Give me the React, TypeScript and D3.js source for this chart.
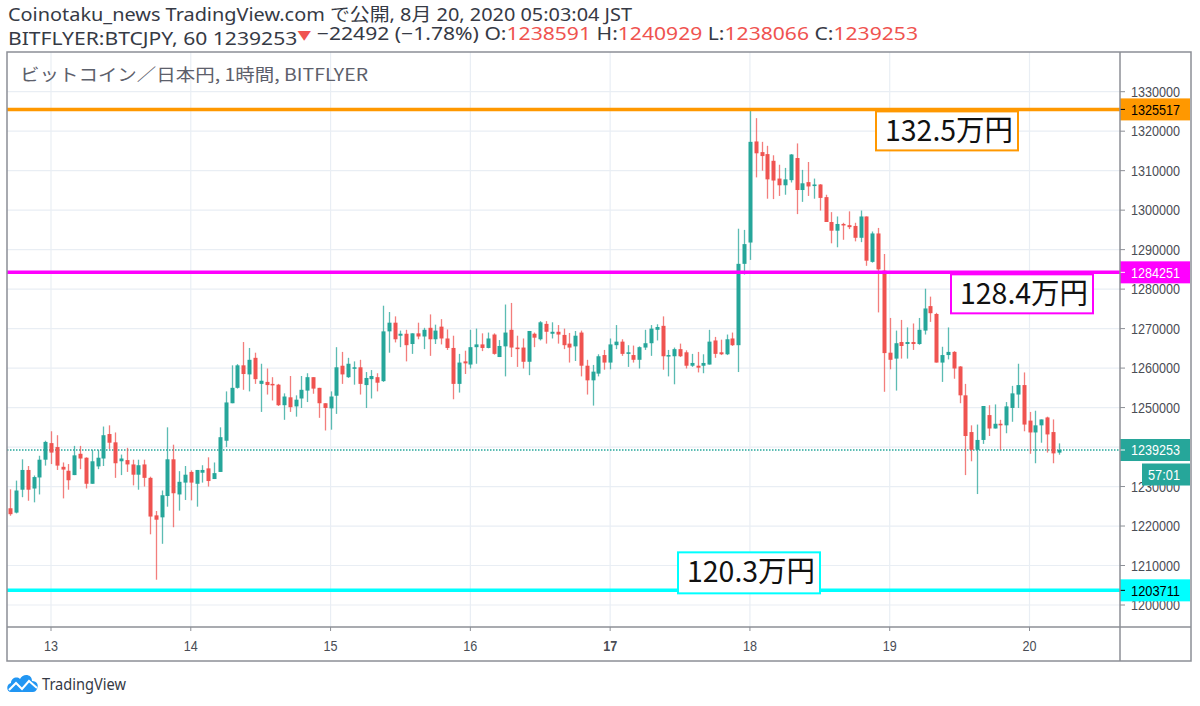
import { useRef, useEffect } from 'react';
import * as d3 from 'd3';

// BITFLYER:BTCJPY hourly bars, first bar 12 Aug 2020 17:00 JST. Prices in thousands of yen.
const openK = [
  1224.5, 1223.4, 1229.2, 1234.2, 1229.5, 1232.3, 1236.8, 1241.0, 1240.0, 1235.0,
  1234.0, 1232.9, 1238.3, 1237.3, 1230.7, 1235.1, 1237.1, 1243.3, 1241.2, 1236.4,
  1236.7, 1235.6, 1233.0, 1235.6, 1232.2, 1222.7, 1222.2, 1227.6, 1236.9, 1228.0,
  1231.0, 1233.7, 1230.7, 1233.5, 1234.6, 1231.9, 1233.7, 1241.6, 1251.1, 1255.0,
  1260.7, 1258.4, 1262.6, 1256.0, 1256.5, 1256.0, 1255.8, 1250.6, 1252.6, 1250.3,
  1252.3, 1254.3, 1257.7, 1255.0, 1251.1, 1249.8, 1253.0, 1260.6, 1257.7, 1259.9,
  1260.2, 1255.7, 1257.2, 1257.7, 1256.7, 1269.3, 1271.5, 1268.2, 1268.7, 1266.1,
  1268.8, 1268.0, 1270.2, 1267.3, 1270.5, 1267.5, 1265.1, 1256.0, 1261.7, 1260.9,
  1265.3, 1266.0, 1265.1, 1268.5, 1262.8, 1265.5, 1269.7, 1265.2, 1265.2, 1261.6,
  1268.7, 1267.3, 1271.2, 1268.7, 1269.2, 1268.4, 1266.2, 1265.5, 1269.0, 1260.6,
  1256.9, 1258.6, 1263.3, 1261.4, 1265.8, 1266.7, 1263.6, 1263.3, 1262.1, 1265.2,
  1266.3, 1269.7, 1270.7, 1263.0, 1263.0, 1264.8, 1264.0, 1260.6, 1260.6, 1260.6,
  1260.9, 1267.0, 1264.0, 1263.5, 1267.5, 1265.8, 1286.4, 1291.8, 1317.4, 1314.7,
  1314.2, 1312.5, 1308.0, 1306.3, 1307.6, 1313.2, 1305.1, 1307.1, 1306.1, 1306.5,
  1303.3, 1297.0, 1294.8, 1296.5, 1296.2, 1296.0, 1293.0, 1298.4, 1286.9, 1294.1,
  1284.7, 1263.9, 1262.4, 1266.6, 1266.1, 1266.6, 1266.1, 1269.5, 1275.7, 1273.7,
  1261.4, 1263.3, 1264.1, 1260.4, 1253.1, 1243.8, 1239.3, 1241.8, 1248.1, 1244.7,
  1245.9, 1245.5, 1249.9, 1253.3, 1255.7, 1246.7, 1243.7, 1245.5, 1247.5, 1243.8,
  1238.591,
];
const highK = [
  1229.3, 1231.5, 1236.9, 1235.2, 1232.8, 1237.8, 1241.6, 1244.0, 1243.0, 1236.1,
  1235.7, 1240.3, 1240.3, 1237.4, 1239.3, 1239.3, 1245.2, 1245.5, 1243.7, 1238.1,
  1239.8, 1236.8, 1236.8, 1236.8, 1232.5, 1223.8, 1229.0, 1245.0, 1240.6, 1233.9,
  1235.2, 1234.1, 1234.2, 1235.4, 1237.4, 1236.1, 1245.0, 1254.1, 1260.7, 1261.0,
  1266.6, 1265.1, 1263.9, 1261.1, 1259.9, 1257.7, 1256.0, 1253.6, 1258.0, 1253.1,
  1258.0, 1258.7, 1257.7, 1255.0, 1251.1, 1254.1, 1265.3, 1264.1, 1262.6, 1261.7,
  1262.1, 1259.0, 1259.5, 1258.7, 1275.8, 1274.2, 1273.1, 1269.5, 1269.7, 1268.8,
  1271.5, 1270.2, 1273.6, 1271.0, 1272.4, 1269.8, 1268.2, 1263.6, 1264.4, 1269.7,
  1270.0, 1268.8, 1269.0, 1268.8, 1267.1, 1276.1, 1276.5, 1268.2, 1267.5, 1269.4,
  1269.0, 1271.9, 1271.9, 1271.6, 1270.9, 1270.0, 1268.9, 1269.4, 1269.5, 1262.1,
  1260.8, 1263.5, 1264.6, 1267.5, 1270.9, 1267.3, 1265.8, 1265.7, 1265.5, 1269.7,
  1270.9, 1271.1, 1273.1, 1264.6, 1265.2, 1266.2, 1264.5, 1263.6, 1264.1, 1263.5,
  1269.7, 1267.9, 1267.2, 1268.5, 1269.0, 1295.3, 1295.0, 1325.5, 1323.3, 1317.3,
  1316.3, 1313.9, 1311.5, 1310.7, 1314.2, 1316.9, 1310.2, 1312.2, 1308.0, 1306.6,
  1303.9, 1299.5, 1298.4, 1296.8, 1299.7, 1296.8, 1299.9, 1298.4, 1294.6, 1295.5,
  1288.9, 1272.7, 1269.5, 1272.2, 1270.3, 1271.3, 1272.7, 1280.1, 1278.1, 1274.0,
  1265.4, 1270.3, 1264.3, 1260.5, 1256.0, 1245.5, 1245.7, 1250.4, 1250.6, 1250.8,
  1246.9, 1251.4, 1255.5, 1261.1, 1258.9, 1248.9, 1249.2, 1247.0, 1247.7, 1247.0,
  1240.929,
];
const lowK = [
  1222.6, 1223.2, 1227.3, 1226.4, 1226.0, 1228.0, 1235.3, 1235.7, 1234.2, 1227.0,
  1229.2, 1232.9, 1234.4, 1229.5, 1230.7, 1234.4, 1235.2, 1239.5, 1232.2, 1232.9,
  1233.7, 1230.3, 1229.2, 1230.0, 1217.9, 1206.4, 1215.5, 1224.9, 1219.7, 1223.9,
  1226.6, 1226.5, 1224.9, 1231.0, 1230.0, 1231.9, 1233.7, 1240.0, 1251.1, 1254.8,
  1254.5, 1254.1, 1256.0, 1248.9, 1253.3, 1251.8, 1250.4, 1246.9, 1248.9, 1247.7,
  1249.9, 1251.4, 1253.5, 1247.4, 1244.2, 1244.4, 1248.4, 1256.0, 1257.5, 1255.8,
  1253.3, 1249.9, 1252.3, 1254.1, 1256.5, 1263.9, 1266.5, 1265.3, 1261.7, 1263.6,
  1267.3, 1264.8, 1263.1, 1266.1, 1266.0, 1264.6, 1252.1, 1253.8, 1258.5, 1259.9,
  1261.1, 1264.3, 1265.0, 1263.4, 1262.8, 1257.9, 1262.8, 1260.3, 1259.9, 1258.2,
  1265.3, 1267.0, 1266.2, 1267.5, 1266.2, 1264.8, 1261.4, 1261.8, 1257.9, 1253.3,
  1250.5, 1257.9, 1259.6, 1259.7, 1264.8, 1263.1, 1260.3, 1261.4, 1259.9, 1264.6,
  1263.1, 1267.0, 1259.6, 1257.9, 1255.9, 1262.8, 1259.9, 1260.3, 1258.9, 1258.7,
  1260.9, 1262.6, 1263.3, 1263.3, 1265.6, 1259.0, 1283.7, 1287.4, 1308.3, 1310.0,
  1302.9, 1302.8, 1303.6, 1303.9, 1307.0, 1299.0, 1302.1, 1303.6, 1302.9, 1299.9,
  1297.0, 1291.6, 1290.6, 1292.5, 1295.2, 1292.1, 1291.9, 1285.9, 1286.7, 1274.1,
  1254.0, 1259.7, 1254.3, 1262.4, 1262.4, 1264.6, 1265.9, 1268.5, 1271.7, 1261.4,
  1256.5, 1262.2, 1257.3, 1251.1, 1232.9, 1236.4, 1228.1, 1240.8, 1242.8, 1244.7,
  1239.3, 1243.5, 1246.4, 1249.9, 1244.0, 1238.3, 1235.9, 1241.1, 1238.6, 1235.9,
  1238.066,
];
const closeK = [
  1223.0, 1229.0, 1234.2, 1229.2, 1232.4, 1236.8, 1241.3, 1238.6, 1235.3, 1234.3,
  1231.6, 1237.9, 1237.1, 1230.7, 1236.4, 1237.3, 1243.0, 1241.1, 1235.9, 1237.1,
  1235.6, 1233.0, 1235.4, 1232.2, 1222.4, 1221.6, 1227.8, 1236.9, 1228.3, 1231.2,
  1233.0, 1231.0, 1234.2, 1234.2, 1231.4, 1233.4, 1242.5, 1251.3, 1255.0, 1260.7,
  1258.5, 1262.1, 1257.2, 1256.8, 1255.7, 1255.7, 1250.6, 1252.8, 1250.1, 1252.0,
  1254.5, 1257.7, 1254.8, 1251.1, 1249.9, 1252.8, 1260.2, 1258.4, 1261.1, 1260.2,
  1256.0, 1257.5, 1258.0, 1256.3, 1269.3, 1271.5, 1267.3, 1268.7, 1265.8, 1268.8,
  1268.0, 1269.7, 1267.3, 1269.5, 1267.5, 1265.1, 1256.0, 1261.4, 1261.2, 1265.3,
  1266.0, 1265.1, 1267.5, 1263.6, 1265.6, 1269.0, 1265.2, 1264.8, 1261.6, 1269.4,
  1267.7, 1271.6, 1269.2, 1269.2, 1268.5, 1265.8, 1265.2, 1268.2, 1260.6, 1256.9,
  1259.1, 1263.0, 1261.4, 1266.0, 1266.7, 1263.6, 1264.0, 1262.1, 1265.3, 1266.3,
  1270.0, 1270.4, 1263.0, 1263.3, 1264.8, 1263.0, 1260.6, 1261.3, 1260.1, 1261.3,
  1266.7, 1263.6, 1263.5, 1267.3, 1265.8, 1286.4, 1291.4, 1317.3, 1314.4, 1313.7,
  1307.8, 1307.5, 1306.3, 1307.8, 1314.1, 1305.1, 1306.8, 1306.0, 1306.5, 1303.1,
  1297.0, 1294.8, 1296.5, 1296.2, 1295.7, 1293.0, 1298.4, 1287.2, 1294.1, 1285.0,
  1263.8, 1262.1, 1266.3, 1265.6, 1266.6, 1266.1, 1269.7, 1275.1, 1273.9, 1261.4,
  1263.3, 1264.1, 1259.9, 1253.1, 1242.8, 1239.3, 1241.8, 1250.4, 1244.7, 1245.9,
  1245.5, 1250.3, 1253.6, 1255.7, 1245.7, 1243.7, 1245.5, 1247.0, 1243.2, 1238.4,
  1239.253,
];

const priceTicks = [
  1200000, 1210000, 1220000, 1230000, 1240000, 1250000, 1260000,
  1270000, 1280000, 1290000, 1300000, 1310000, 1320000, 1330000,
];
const dayTicks = [13, 14, 15, 16, 17, 18, 19, 20];

const levelPrices = [1325517, 1284251, 1203711];
const levelNotes = ['132.5万円', '128.4万円', '120.3万円'];
const levelColors = ['#ff9800', '#ff00ff', '#00ffff'];
const levelTagText = ['#000000', '#ffffff', '#000000'];

const lastPrice = 1239253;
const countdown = '57:01';

const UP = '#26a69a';
const DOWN = '#ef5350';
const AXIS_FONT = '"Liberation Sans", Arial, sans-serif';
const TEXT_FONT = '"Noto Sans", "Noto Sans CJK JP", sans-serif';

// pane geometry
const FRAME = { left: 7, top: 52, right: 1191, bottom: 661 };
const PANE_RIGHT = 1120;
const AXIS_Y = 627;

export default function App() {
  const svgRef = useRef<SVGSVGElement>(null);

  useEffect(() => {
    const svg = d3.select(svgRef.current!);
    svg.selectAll('*').remove();

    const bars = openK.map((o, i) => ({
      t: new Date(Date.UTC(2020, 7, 12, 17 + i)),
      o: o * 1000,
      h: highK[i] * 1000,
      l: lowK[i] * 1000,
      c: closeK[i] * 1000,
    }));

    const x = d3
      .scaleUtc()
      .domain([new Date(Date.UTC(2020, 7, 13)), new Date(Date.UTC(2020, 7, 20))])
      .range([51, 1029.5]);
    const y = d3.scaleLinear().domain([1200000, 1330000]).range([605, 91.7]);

    svg.append('rect').attr('width', 1200).attr('height', 706).attr('fill', '#ffffff');

    // header
    svg
      .append('text')
      .attr('x', 8)
      .attr('y', 21)
      .attr('font-family', TEXT_FONT)
      .attr('font-size', 18)
      .attr('fill', '#363a45')
      .attr('textLength', 624)
      .attr('lengthAdjust', 'spacingAndGlyphs')
      .text('Coinotaku_news TradingView.com で公開, 8月 20, 2020 05:03:04 JST');

    const line2 = svg
      .append('text')
      .attr('x', 8)
      .attr('y', 45)
      .attr('font-family', TEXT_FONT)
      .attr('font-size', 18)
      .attr('fill', '#363a45')
      .attr('textLength', 910)
      .attr('lengthAdjust', 'spacingAndGlyphs');
    const parts: [string, string][] = [
      ['BITFLYER:BTCJPY, 60 1239253', '#363a45'],
      ['▼', DOWN],
      [' −22492 (−1.78%) O:', '#363a45'],
      ['1238591', DOWN],
      [' H:', '#363a45'],
      ['1240929', DOWN],
      [' L:', '#363a45'],
      ['1238066', DOWN],
      [' C:', '#363a45'],
      ['1239253', DOWN],
    ];
    parts.forEach(([s, col]) => {
      line2
        .append('tspan')
        .attr('fill', col)
        .attr('font-size', s === '▼' ? 12 : 18)
        .attr('dy', s === '▼' ? -5 : 0)
        .text(s);
      if (s === '▼') line2.append('tspan').attr('dy', 5).text('');
    });

    // pane
    svg
      .append('defs')
      .append('clipPath')
      .attr('id', 'pane')
      .append('rect')
      .attr('x', FRAME.left)
      .attr('y', FRAME.top)
      .attr('width', PANE_RIGHT - FRAME.left)
      .attr('height', AXIS_Y - FRAME.top);

    const pane = svg.append('g').attr('clip-path', 'url(#pane)');

    pane
      .selectAll('.hgrid')
      .data(priceTicks)
      .join('line')
      .attr('x1', FRAME.left)
      .attr('x2', PANE_RIGHT)
      .attr('y1', (d) => y(d))
      .attr('y2', (d) => y(d))
      .attr('stroke', '#e9eef4')
      .attr('stroke-width', 1.2);

    pane
      .selectAll('.vgrid')
      .data(dayTicks)
      .join('line')
      .attr('x1', (d) => x(new Date(Date.UTC(2020, 7, d))))
      .attr('x2', (d) => x(new Date(Date.UTC(2020, 7, d))))
      .attr('y1', FRAME.top)
      .attr('y2', AXIS_Y)
      .attr('stroke', '#e9eef4')
      .attr('stroke-width', 1.2);

    pane
      .append('text')
      .attr('x', 20)
      .attr('y', 81)
      .attr('font-family', '"Noto Sans CJK JP", "Noto Sans", sans-serif')
      .attr('font-size', 17)
      .attr('fill', '#5d606b')
      .attr('textLength', 348)
      .attr('lengthAdjust', 'spacingAndGlyphs')
      .text('ビットコイン／日本円, 1時間, BITFLYER');

    // last price dotted line
    pane
      .append('line')
      .attr('x1', FRAME.left)
      .attr('x2', PANE_RIGHT)
      .attr('y1', y(lastPrice))
      .attr('y2', y(lastPrice))
      .attr('stroke', UP)
      .attr('stroke-width', 1.5)
      .attr('stroke-dasharray', '1.5 1.5');

    // candles
    const bodyW = 4;
    const candle = pane
      .selectAll('.candle')
      .data(bars)
      .join('g')
      .attr('class', 'candle');
    candle
      .append('line')
      .attr('x1', (d) => Math.round(x(d.t)) + 0.5)
      .attr('x2', (d) => Math.round(x(d.t)) + 0.5)
      .attr('y1', (d) => y(Math.max(d.h, d.o, d.c)))
      .attr('y2', (d) => y(Math.min(d.l, d.o, d.c)))
      .attr('stroke', (d) => (d.c >= d.o ? UP : DOWN))
      .attr('stroke-opacity', 0.75)
      .attr('stroke-width', 1.3);
    candle
      .append('rect')
      .attr('x', (d) => Math.round(x(d.t)) + 0.5 - bodyW / 2)
      .attr('width', bodyW)
      .attr('y', (d) => y(Math.max(d.o, d.c)))
      .attr('height', (d) => Math.max(1.5, Math.abs(y(d.o) - y(d.c))))
      .attr('fill', (d) => (d.c >= d.o ? UP : DOWN));

    // level lines
    levelPrices.forEach((p, i) => {
      pane
        .append('line')
        .attr('x1', FRAME.left)
        .attr('x2', PANE_RIGHT)
        .attr('y1', y(p))
        .attr('y2', y(p))
        .attr('stroke', levelColors[i])
        .attr('stroke-width', 3.5);
    });

    // note boxes
    const noteLeft = [876, 951, 678];
    levelPrices.forEach((p, i) => {
      const top = i < 2 ? y(p) + 2 : y(p) + 3 - 41;
      const g = pane.append('g');
      g.append('rect')
        .attr('x', noteLeft[i])
        .attr('y', top)
        .attr('width', 142)
        .attr('height', i < 2 ? 39 : 41)
        .attr('fill', '#ffffff')
        .attr('stroke', levelColors[i])
        .attr('stroke-width', 2);
      g.append('text')
        .attr('x', noteLeft[i] + 9)
        .attr('y', top + 30)
        .attr('font-family', '"Noto Sans CJK JP", sans-serif')
        .attr('font-size', 29)
        .attr('fill', '#111')
        .attr('textLength', 128)
        .attr('lengthAdjust', 'spacingAndGlyphs')
        .text(levelNotes[i]);
    });

    // price axis
    const axisG = svg.append('g');
    axisG
      .selectAll('.ptick')
      .data(priceTicks)
      .join('line')
      .attr('x1', PANE_RIGHT)
      .attr('x2', PANE_RIGHT + 5)
      .attr('y1', (d) => y(d))
      .attr('y2', (d) => y(d))
      .attr('stroke', '#8c8f96');
    axisG
      .selectAll('.plabel')
      .data(priceTicks)
      .join('text')
      .attr('x', 1131)
      .attr('y', (d) => y(d) + 5.3)
      .attr('font-family', AXIS_FONT)
      .attr('font-size', 14.5)
      .attr('fill', '#4a4d55')
      .attr('textLength', 49)
      .attr('lengthAdjust', 'spacingAndGlyphs')
      .text((d) => String(d));

    const tag = (cy: number, bg: string, fg: string, label: string, x0 = PANE_RIGHT) => {
      axisG
        .append('rect')
        .attr('x', x0)
        .attr('y', cy - 11)
        .attr('width', 1190 - x0)
        .attr('height', 22)
        .attr('fill', bg);
      if (x0 === PANE_RIGHT) {
        axisG
          .append('line')
          .attr('x1', PANE_RIGHT)
          .attr('x2', PANE_RIGHT + 5)
          .attr('y1', cy)
          .attr('y2', cy)
          .attr('stroke', fg);
      }
      axisG
        .append('text')
        .attr('x', x0 === PANE_RIGHT ? 1131 : 1148)
        .attr('y', cy + 5.3)
        .attr('font-family', AXIS_FONT)
        .attr('font-size', 14.5)
        .attr('fill', fg)
        .attr('textLength', x0 === PANE_RIGHT ? 49 : 32)
        .attr('lengthAdjust', 'spacingAndGlyphs')
        .text(label);
    };
    levelPrices.forEach((p, i) => tag(y(p), levelColors[i], levelTagText[i], String(p)));
    tag(y(lastPrice), UP, '#ffffff', String(lastPrice));
    tag(y(lastPrice) + 24.5, UP, '#ffffff', countdown, 1142);

    // time axis
    const timeG = svg.append('g');
    timeG
      .selectAll('.ttick')
      .data(dayTicks)
      .join('line')
      .attr('x1', (d) => x(new Date(Date.UTC(2020, 7, d))))
      .attr('x2', (d) => x(new Date(Date.UTC(2020, 7, d))))
      .attr('y1', AXIS_Y)
      .attr('y2', AXIS_Y + 4)
      .attr('stroke', '#8c8f96');
    timeG
      .selectAll('.tlabel')
      .data(dayTicks)
      .join('text')
      .attr('x', (d) => x(new Date(Date.UTC(2020, 7, d))))
      .attr('y', 651)
      .attr('text-anchor', 'middle')
      .attr('font-family', AXIS_FONT)
      .attr('font-size', 15)
      .attr('font-weight', (d) => (d === 17 ? 'bold' : 'normal'))
      .attr('fill', '#4a4d55')
      .attr('textLength', 14)
      .attr('lengthAdjust', 'spacingAndGlyphs')
      .text((d) => String(d));

    // frame
    const frame = svg.append('g').attr('stroke', '#8c8f96').attr('stroke-width', 1.5).attr('fill', 'none');
    frame
      .append('rect')
      .attr('x', FRAME.left)
      .attr('y', FRAME.top)
      .attr('width', FRAME.right - FRAME.left)
      .attr('height', FRAME.bottom - FRAME.top);
    frame.append('line').attr('x1', PANE_RIGHT).attr('x2', PANE_RIGHT).attr('y1', FRAME.top).attr('y2', FRAME.bottom);
    frame.append('line').attr('x1', FRAME.left).attr('x2', FRAME.right).attr('y1', AXIS_Y).attr('y2', AXIS_Y);

    // TradingView logo
    const logo = svg.append('g');
    logo
      .append('path')
      .attr(
        'd',
        'M11,692 C6,692 6,684 11,683 C11,678 17,676 20,679 C23,673 32,674 32,681 C37,681 39,685 37,689 C36,691 35,692 33,692 Z',
      )
      .attr('fill', '#2196f3');
    logo
      .append('polyline')
      .attr('points', '9,690 16,683 22,689 29,681 37,688')
      .attr('fill', 'none')
      .attr('stroke', '#ffffff')
      .attr('stroke-width', 2);
    logo
      .append('text')
      .attr('x', 42)
      .attr('y', 690)
      .attr('font-family', TEXT_FONT)
      .attr('font-size', 16)
      .attr('fill', '#363a45')
      .attr('textLength', 84)
      .attr('lengthAdjust', 'spacingAndGlyphs')
      .text('TradingView');
  }, []);

  return (
    <svg
      ref={svgRef}
      width={1200}
      height={706}
      style={{ position: 'fixed', left: 0, top: 0, display: 'block' }}
    />
  );
}
